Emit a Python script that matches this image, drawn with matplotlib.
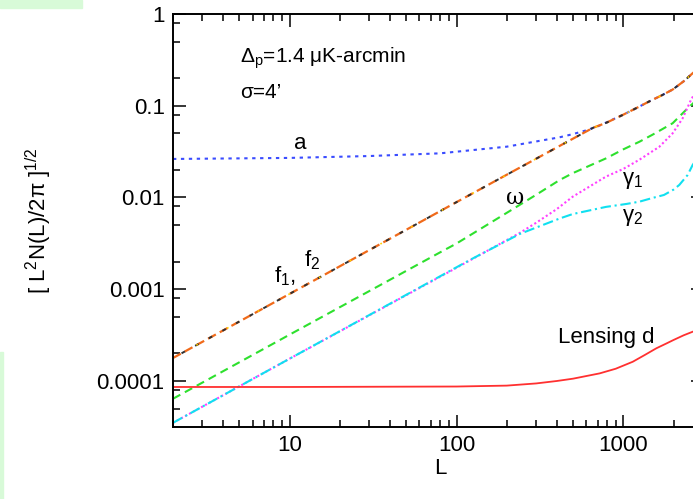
import numpy as np
import matplotlib
matplotlib.use("Agg")
import matplotlib.pyplot as plt
from matplotlib.patches import Rectangle
from matplotlib.ticker import LogLocator, FixedLocator, FixedFormatter, NullFormatter

plt.rcParams['font.family'] = ['Liberation Sans', 'DejaVu Sans']
plt.rcParams['mathtext.fontset'] = 'custom'
plt.rcParams['mathtext.rm'] = 'Liberation Sans'
plt.rcParams['mathtext.it'] = 'Liberation Sans'

# values (L, noise amplitude)
L_a = [2, 10, 30, 80, 200, 415, 497, 600, 700, 1000, 1247, 1436, 1700, 1972, 2300, 2600, 3000]
v_a = [0.0263, 0.027, 0.0283, 0.0303, 0.0358, 0.0453, 0.049, 0.054, 0.0595,
       0.08, 0.098, 0.112, 0.13, 0.15, 0.185, 0.226, 0.28]

L_f = [2, 10, 100, 415, 658, 787, 1000, 1247, 1436, 1700, 1972, 2300, 2600, 3000]
v_f = [1.78e-4, 8.9e-4, 8.9e-3, 0.0365, 0.0575, 0.065, 0.08, 0.098, 0.112,
       0.13, 0.15, 0.185, 0.226, 0.28]

L_w = [2, 10, 79, 100, 200, 300, 415, 497, 787, 1000, 1247, 1500, 1972, 2427, 2600, 3000]
v_w = [6.4e-5, 3.2e-4, 2.5e-3, 3.15e-3, 6.8e-3, 0.0107, 0.0155, 0.0184, 0.0267,
       0.0335, 0.0405, 0.0485, 0.0644, 0.0938, 0.105, 0.135]

L_g1 = [2, 10, 91, 239, 300, 400, 497, 787, 1000, 1247, 1642, 1972, 2264, 2540, 2700, 3000]
v_g1 = [3.5e-5, 1.75e-4, 1.56e-3, 4.1e-3, 5.3e-3, 7.5e-3, 0.0102, 0.0169, 0.0205,
        0.0258, 0.0357, 0.050, 0.0728, 0.1156, 0.14, 0.2]

L_g2 = [2, 10, 120, 239, 300, 415, 497, 787, 1042, 1247, 1500, 1750, 2000, 2163, 2427, 2600, 3000]
v_g2 = [3.5e-5, 1.75e-4, 2.08e-3, 4.0e-3, 4.7e-3, 5.9e-3, 6.6e-3, 7.9e-3, 8.5e-3,
        9.0e-3, 9.9e-3, 0.01065, 0.0122, 0.0137, 0.0176, 0.0226, 0.033]

L_d = [2, 10, 100, 200, 300, 400, 500, 721, 900, 1138, 1350, 1575, 1800, 2000, 2300, 2600, 3000]
v_d = [8.6e-5, 8.6e-5, 8.7e-5, 8.9e-5, 9.4e-5, 1.0e-4, 1.06e-4, 1.21e-4, 1.36e-4,
       1.62e-4, 1.93e-4, 2.27e-4, 2.55e-4, 2.8e-4, 3.15e-4, 3.44e-4, 3.8e-4]

ytick_vals = [1e-4, 1e-3, 1e-2, 1e-1, 1]
ytick_labels = ['0.0001', '0.001', '0.01', '0.1', '1']

fig = plt.figure(figsize=(6.93, 4.99), dpi=100)

# light green scraps at the image border
fig.patches.append(Rectangle((0, 1 - 8/499), 82/693, 8/499, transform=fig.transFigure,
                             color='#d8fad8', zorder=0))
fig.patches.append(Rectangle((0, 0), 3/693, 147/499, transform=fig.transFigure,
                             color='#d8fad8', zorder=0))

ax = fig.add_axes([173/693, 1 - 427/499, 530/693, 413/499])

ax.plot(L_a, v_a, color='#3a4cff', lw=1.5, ls=(0, (1.6, 2.2)))
ax.plot(L_f, v_f, color='#f06a1a', lw=1.6, ls=(0, (4, 2)))
ax.plot(L_f, v_f, color='#303030', lw=1.4, ls=(3, (2, 6)))
ax.plot(L_f, v_f, color='#ffd000', lw=1.2, ls=(5, (1, 20)))
ax.plot(L_w, v_w, color='#2ee02e', lw=1.5, ls=(0, (4, 2.5)))
ax.plot(L_g1, v_g1, color='#ff40ff', lw=1.5, ls=(0, (1, 1.2)))
ax.plot(L_g2, v_g2, color='#10e0f0', lw=1.5, ls=(0, (5, 1.8, 1, 1.8)))
ax.plot(L_d, v_d, color='#ff3030', lw=1.3)

ax.set_xscale('log')
ax.set_yscale('log')
ax.set_xlim(2, 3000)
ax.set_ylim(3.15e-5, 1)

ax.xaxis.set_minor_locator(LogLocator(base=10, subs=np.arange(2, 10), numticks=20))
ax.xaxis.set_minor_formatter(NullFormatter())
ax.set_xticks([10, 100, 1000])
ax.set_xticklabels(['10', '100', '1000'])

ax.yaxis.set_major_locator(FixedLocator(ytick_vals))
ax.yaxis.set_major_formatter(FixedFormatter(ytick_labels))
ax.yaxis.set_minor_locator(LogLocator(base=10, subs=(2, 5, 8), numticks=20))
ax.yaxis.set_minor_formatter(NullFormatter())

ax.tick_params(which='both', direction='in', top=True, right=True, width=1.1)
ax.tick_params(which='major', length=9, labelsize=16, pad=6)
ax.tick_params(which='minor', length=5)
for s in ax.spines.values():
    s.set_linewidth(1.4)

ax.set_xlabel('L', fontsize=16)
ax.xaxis.set_label_coords(0.505, -0.075)
ax.set_ylabel(r'[ L$^2$N(L)/2$\pi$ ]$^{1/2}$', fontsize=16)
ax.yaxis.set_label_coords(-0.225, 0.5)

fs = 16
ax.text(67/530, 0.893, r'$\Delta_{\rm p}$=1.4 $\mu$K-arcmin',
        transform=ax.transAxes, fontsize=15, va='center', ha='left')
ax.text(67/530, 0.811, "σ=4’", transform=ax.transAxes, fontsize=15,
        va='center', ha='left')
ax.text(11.5, 0.039, 'a', fontsize=fs, ha='center', va='center')
ax.text(223, 0.0099, 'ω', fontsize=fs, ha='center', va='center', family='DejaVu Serif')
ax.text(1135, 0.0155, r'$\gamma_1$', fontsize=fs, ha='center', va='center')
ax.text(1135, 0.006, r'$\gamma_2$', fontsize=fs, ha='center', va='center')
ax.text(403, 3.0e-4, 'Lensing d', fontsize=fs, ha='left', va='center')
ax.text(9.4, 1.4e-3, r'f$_1$,', fontsize=fs, ha='center', va='center')
ax.text(13.6, 2.08e-3, r'f$_2$', fontsize=fs, ha='center', va='center')

fig.savefig('out.png', dpi=100)
